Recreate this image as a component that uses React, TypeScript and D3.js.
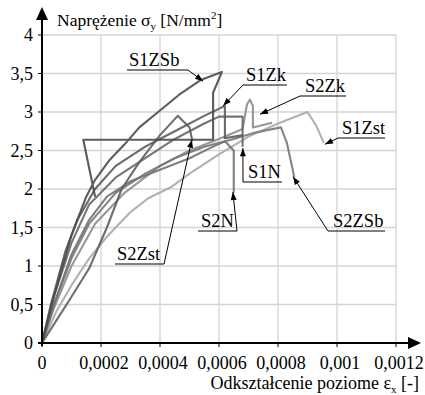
import * as d3 from 'd3';

// odkształcenie (x) i naprężenie (y) dla każdej próbki
const S1ZSb: [number, number][] = [
  [0, 0], [0.00004, 0.6], [0.0001, 1.4], [0.00015, 1.9], [0.00018, 2.12], [0.00023, 2.38],
  [0.00028, 2.58], [0.00033, 2.8], [0.0004, 3.02], [0.00047, 3.24], [0.00054, 3.42],
  [0.00061, 3.52], [0.00058, 3.25], [0.00058, 2.64], [0.00014, 2.64], [0.00018, 1.9],
];
const S1Zk: [number, number][] = [
  [0, 0], [0.00003, 0.5], [0.00008, 1.2], [0.00012, 1.6], [0.00018, 2.0], [0.00025, 2.3],
  [0.00035, 2.55], [0.00045, 2.75], [0.00055, 2.95], [0.00062, 3.08], [0.00062, 2.66], [0.00068, 2.7],
];
const S1N: [number, number][] = [
  [0, 0], [0.00004, 0.6], [0.0001, 1.3], [0.00016, 1.8], [0.00025, 2.15], [0.00035, 2.4],
  [0.00045, 2.65], [0.00055, 2.85], [0.0006, 2.94], [0.00068, 2.94], [0.00068, 2.55],
];
const S2N: [number, number][] = [
  [0, 0], [0.00005, 0.6], [0.0001, 1.15], [0.00016, 1.6], [0.00022, 1.9], [0.0003, 2.1],
  [0.0004, 2.25], [0.0005, 2.4], [0.00058, 2.55], [0.00062, 2.62], [0.00065, 2.5], [0.00065, 1.95],
];
const S2Zk: [number, number][] = [
  [0, 0], [0.00004, 0.45], [0.0001, 1.0], [0.00018, 1.55], [0.00028, 1.95], [0.0004, 2.3],
  [0.0005, 2.5], [0.0006, 2.65], [0.00068, 2.78], [0.000695, 3.1], [0.000705, 3.16],
  [0.000715, 3.08], [0.000715, 2.8], [0.00078, 2.86],
];
const S2ZSb: [number, number][] = [
  [0, 0], [0.00004, 0.5], [0.0001, 1.1], [0.00016, 1.55], [0.00025, 1.95], [0.00035, 2.2],
  [0.00045, 2.4], [0.00055, 2.55], [0.00065, 2.65], [0.00072, 2.73], [0.00081, 2.8],
  [0.00083, 2.6], [0.00085, 2.25], [0.000855, 2.15],
];
const S1Zst: [number, number][] = [
  [0, 0], [0.00005, 0.42], [0.0001, 0.75], [0.00016, 1.1], [0.00022, 1.38], [0.0003, 1.7],
  [0.00036, 1.88], [0.00044, 2.03], [0.0005, 2.2], [0.0006, 2.45], [0.0007, 2.68],
  [0.0008, 2.85], [0.0009, 3.0], [0.00093, 2.82], [0.000955, 2.6],
];
const S2Zst: [number, number][] = [
  [0, 0], [0.00005, 0.3], [0.0001, 0.6], [0.00016, 0.97], [0.00022, 1.5], [0.00027, 2.0],
  [0.00033, 2.35], [0.0004, 2.7], [0.00046, 2.95], [0.0005, 2.8], [0.00051, 2.62],
];

const xTicks = [0, 0.0002, 0.0004, 0.0006, 0.0008, 0.001, 0.0012];
const xTickLabels = ['0', '0,0002', '0,0004', '0,0006', '0,0008', '0,001', '0,0012'];
const yTicks = [0, 0.5, 1, 1.5, 2, 2.5, 3, 3.5, 4];
const yTickLabels = ['0', '0,5', '1', '1,5', '2', '2,5', '3', '3,5', '4'];

const series = [
  { name: 'S1Zst', pts: S1Zst, color: '#a8a8a8' },
  { name: 'S2Zk', pts: S2Zk, color: '#8c8c8c' },
  { name: 'S2ZSb', pts: S2ZSb, color: '#777' },
  { name: 'S2N', pts: S2N, color: '#727272' },
  { name: 'S1N', pts: S1N, color: '#666' },
  { name: 'S2Zst', pts: S2Zst, color: '#5e5e5e' },
  { name: 'S1Zk', pts: S1Zk, color: '#5a5a5a' },
  { name: 'S1ZSb', pts: S1ZSb, color: '#4a4a4a' },
];

// opisy: grot strzałki w danych, etykieta w pikselach
const notes = [
  { text: 'S1ZSb', tip: [0.000546, 3.4], tx: 129, ty: 66, u0: 127, u1: 188, from: 'r' },
  { text: 'S1Zk', tip: [0.000614, 3.08], tx: 246, ty: 81, u0: 243, u1: 287, from: 'l' },
  { text: 'S2Zk', tip: [0.000739, 2.97], tx: 305, ty: 92, u0: 300, u1: 346, from: 'l' },
  { text: 'S1Zst', tip: [0.000959, 2.58], tx: 342, ty: 134, u0: 338, u1: 385, from: 'l' },
  { text: 'S1N', tip: [0.000681, 2.53], tx: 248, ty: 178, u0: 243, u1: 282, from: 'l' },
  { text: 'S2N', tip: [0.000647, 1.96], tx: 201, ty: 227, u0: 198, u1: 237, from: 'r' },
  { text: 'S2ZSb', tip: [0.000851, 2.16], tx: 333, ty: 227, u0: 328, u1: 385, from: 'l' },
  { text: 'S2Zst', tip: [0.000508, 2.64], tx: 117, ty: 260, u0: 115, u1: 164, from: 'r' },
];

const W = 425;
const H = 395;
const x = d3.scaleLinear().domain([0, 0.0012]).range([42, 396]);
const y = d3.scaleLinear().domain([0, 4]).range([343, 35]);
const font = "'Liberation Serif', 'Times New Roman', serif";

const line = d3.line<[number, number]>()
  .x(d => x(d[0]))
  .y(d => y(d[1]));

function arrowHead(x1: number, y1: number, x2: number, y2: number, len = 8, half = 3) {
  const a = Math.atan2(y2 - y1, x2 - x1);
  const bx = x2 - len * Math.cos(a);
  const by = y2 - len * Math.sin(a);
  const px = -Math.sin(a) * half;
  const py = Math.cos(a) * half;
  return `M${x2},${y2}L${bx + px},${by + py}L${bx - px},${by - py}Z`;
}

const T = { fontFamily: font };

export default function App() {
  const x0 = x(0);
  const y0 = y(0);
  return (
    <svg width={W} height={H} style={{ position: 'absolute', left: 0, top: 0, background: '#fff', fontFamily: font }}>
      {/* siatka */}
      {xTicks.slice(1).map(t => (
        <line key={'gx' + t} x1={x(t)} x2={x(t)} y1={y(4)} y2={y0} stroke="#d4d4d4" strokeWidth={1.3} />
      ))}
      {yTicks.slice(1).map(t => (
        <line key={'gy' + t} x1={x0} x2={x(0.0012)} y1={y(t)} y2={y(t)} stroke="#d4d4d4" strokeWidth={1.3} />
      ))}

      {/* krzywe */}
      {series.map(s => (
        <path key={s.name} d={line(s.pts) || ''} fill="none" stroke={s.color} strokeWidth={2.1}
          strokeLinejoin="round" strokeOpacity={0.9} />
      ))}

      {/* osie */}
      <line x1={x0} x2={x0} y1={y0 + 3} y2={16} stroke="#000" strokeWidth={2} />
      <path d={arrowHead(x0, 30, x0, 7, 13, 6)} fill="#000" />
      <line x1={x0 - 4} x2={410} y1={y0} y2={y0} stroke="#000" strokeWidth={2} />
      <path d={arrowHead(380, y0, 421, y0, 13, 6)} fill="#000" />
      {yTicks.map(t => (
        <line key={'ty' + t} x1={x0 - 4} x2={x0} y1={y(t)} y2={y(t)} stroke="#000" strokeWidth={1} />
      ))}
      {xTicks.map(t => (
        <line key={'tx' + t} x1={x(t)} x2={x(t)} y1={y0} y2={y0 + 4} stroke="#000" strokeWidth={1} />
      ))}

      {/* etykiety osi */}
      {yTicks.map((t, i) => (
        <text key={'ly' + t} style={T} x={33} y={y(t) + 6} fontSize={18} textAnchor="end">{yTickLabels[i]}</text>
      ))}
      {xTicks.map((t, i) => (
        <text key={'lx' + t} style={T} x={x(t) + (i === 0 ? 0 : 3)} y={369} fontSize={18} textAnchor="middle">{xTickLabels[i]}</text>
      ))}

      <text style={T} x={57} y={26} fontSize={17.5}>
        Naprężenie σ<tspan fontSize={11} dy={4}>y</tspan><tspan dy={-4}> [N/mm</tspan>
        <tspan fontSize={11} dy={-7}>2</tspan><tspan dy={7}>]</tspan>
      </text>
      <text style={T} x={419} y={389} fontSize={18} textAnchor="end">
        Odkształcenie poziome ε<tspan fontSize={11} dy={4}>x</tspan><tspan dy={-4}> [-]</tspan>
      </text>

      {/* opisy krzywych */}
      {notes.map(n => {
        const uy = n.ty + 4;
        const sx = n.from === 'r' ? n.u1 : n.u0;
        const tx = x(n.tip[0]);
        const ty = y(n.tip[1]);
        return (
          <g key={n.text}>
            <text style={T} x={n.tx} y={n.ty} fontSize={18.5}>{n.text}</text>
            <line x1={n.u0} x2={n.u1} y1={uy} y2={uy} stroke="#000" strokeWidth={1} />
            <line x1={sx} y1={uy} x2={tx} y2={ty} stroke="#000" strokeWidth={1} />
            <path d={arrowHead(sx, uy, tx, ty)} fill="#000" />
          </g>
        );
      })}
    </svg>
  );
}
